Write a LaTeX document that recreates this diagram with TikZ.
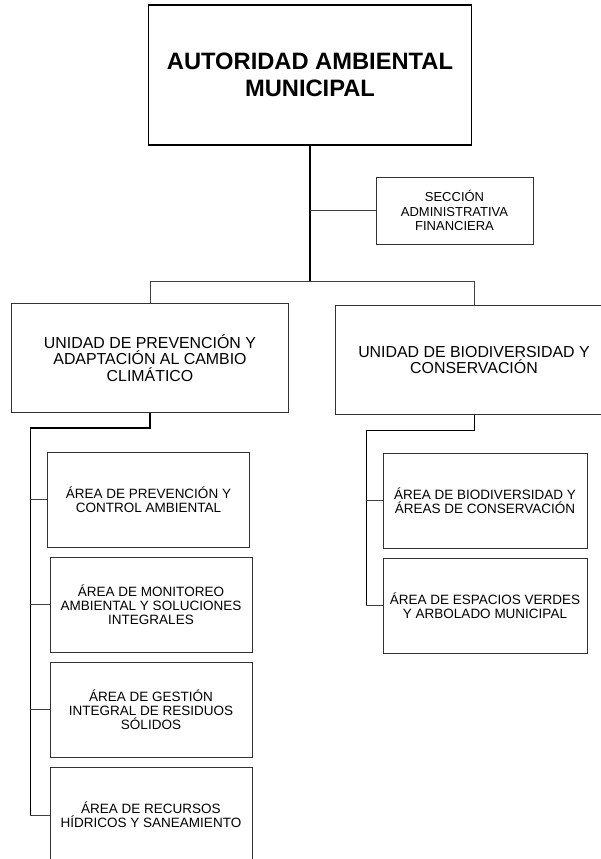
\documentclass[tikz,border=0pt]{standalone}
\usepackage{fontspec}
\setmainfont{Liberation Sans}

\begin{document}
\begin{tikzpicture}[x=1pt,y=-1pt,
                    box/.style={draw=black!80,line width=0.8pt,align=center,inner sep=2pt},
                    head box/.style={box,draw=black,line width=1.4pt,minimum width=323pt,minimum height=140pt,
                                     font=\fontsize{23.7}{27}\selectfont\bfseries},
                    unit box/.style={box,minimum width=277pt,minimum height=109pt,font=\fontsize{15.9}{16.3}\selectfont},
                    area box/.style={box,minimum width=202pt,minimum height=95pt,font=\fontsize{13.5}{14}\selectfont},
                    small box/.style={box,minimum width=157pt,minimum height=67pt,font=\fontsize{13}{14.5}\selectfont},
                    main line/.style={line width=1.6pt},
                    thin line/.style={line width=0.8pt,draw=black!75}]
\useasboundingbox (0,0) rectangle (600,859);

\node[head box] (aut) at (310,75) {AUTORIDAD AMBIENTAL\\MUNICIPAL};
\node[small box] (sec) at (454.5,210.5) {SECCIÓN\\ADMINISTRATIVA\\FINANCIERA};

\node[unit box] (up) at (150,358) {UNIDAD DE PREVENCIÓN Y\\ADAPTACIÓN AL CAMBIO\\CLIMÁTICO};
\node[unit box] (ub) at (474,360) {UNIDAD DE BIODIVERSIDAD Y\\CONSERVACIÓN};

\node[area box] (a1) at (148.5,499.5) {ÁREA DE PREVENCIÓN Y\\CONTROL AMBIENTAL};
\node[area box] (a2) at (151,604.5) {ÁREA DE MONITOREO\\AMBIENTAL Y SOLUCIONES\\INTEGRALES};
\node[area box] (a3) at (151,709.5) {ÁREA DE GESTIÓN\\INTEGRAL DE RESIDUOS\\SÓLIDOS};
\node[area box,minimum height=96pt] (a4) at (151,815) {ÁREA DE RECURSOS\\HÍDRICOS Y SANEAMIENTO};

\node[area box,minimum width=204pt] (b1) at (485,500.5) {ÁREA DE BIODIVERSIDAD Y\\ÁREAS DE CONSERVACIÓN};
\node[area box,minimum width=204pt] (b2) at (485,605.5) {ÁREA DE ESPACIOS VERDES\\Y ARBOLADO MUNICIPAL};

% junctions
\coordinate (busL) at (150,281);
\coordinate (busR) at (474,281);
\coordinate (elbowL) at (30,428);
\coordinate (endL) at (30,815);
\coordinate (elbowR) at (366,430);
\coordinate (endR) at (366,605.5);

\draw[main line] (aut) -- (aut.south |- busL);
\draw[thin line] (sec.west) -- (sec.west -| aut.south);
\draw[thin line] (busL) -- (busR);
\draw[thin line] (busL) -- (up);
\draw[thin line] (busR) -- (ub);

\draw[main line] (up) |- (elbowL);
\draw[line width=1pt] (elbowL) -- (endL);
\path[thin line]
  (a1.west) edge (a1.west -| elbowL)
  (a2.west) edge (a2.west -| elbowL)
  (a3.west) edge (a3.west -| elbowL)
  (a4.west) edge (a4.west -| elbowL);

\draw[line width=1pt] (ub) |- (elbowR) -- (endR);
\path[thin line]
  (b1.west) edge (b1.west -| elbowR)
  (b2.west) edge (b2.west -| elbowR);
\end{tikzpicture}
\end{document}
